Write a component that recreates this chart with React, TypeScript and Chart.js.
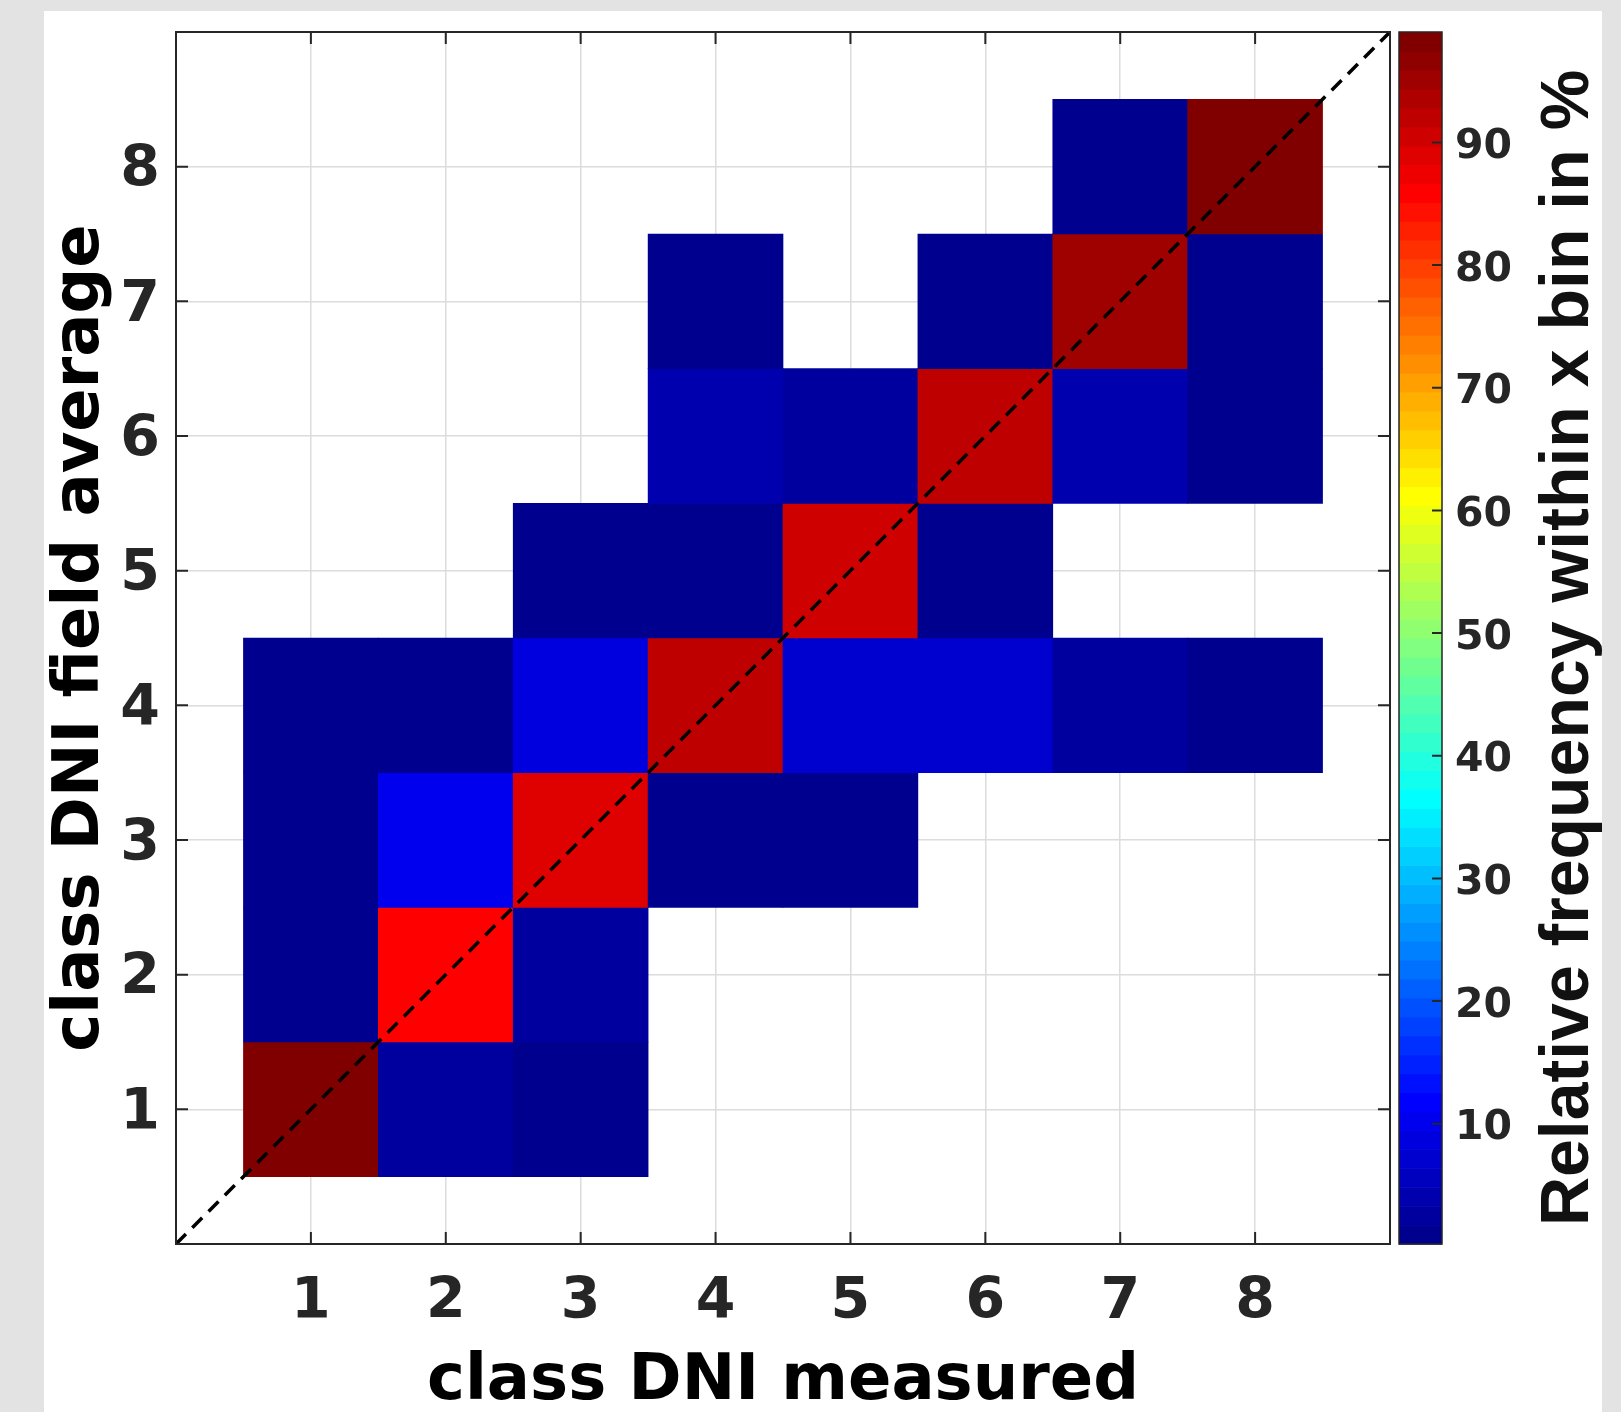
import React, { useEffect, useRef } from 'react';
import { Chart, registerables } from 'chart.js';

Chart.register(...registerables);

const W = 1621;
const H = 1412;

// Classes on both axes
const CLASSES = [1, 2, 3, 4, 5, 6, 7, 8];
const X_TICKS = [1, 2, 3, 4, 5, 6, 7, 8];
const Y_TICKS = [1, 2, 3, 4, 5, 6, 7, 8];
const CBAR_TICKS = [10, 20, 30, 40, 50, 60, 70, 80, 90];

// Relative frequency within x bin (%), one array per y class (field average),
// indexed by x class (measured); null = empty bin
const ROW_Y1 = [99.0, 2.9, 1.2, null, null, null, null, null];
const ROW_Y2 = [0.4, 86.0, 1.9, null, null, null, null, null];
const ROW_Y3 = [0.2, 10.5, 89.0, 1.3, 0.8, null, null, null];
const ROW_Y4 = [0.4, 1.2, 8.7, 92.5, 7.6, 7.4, 2.8, 1.4];
const ROW_Y5 = [null, null, 0.7, 1.0, 90.5, 1.4, null, null];
const ROW_Y6 = [null, null, null, 4.2, 2.6, 92.0, 4.6, 1.6];
const ROW_Y7 = [null, null, null, 0.9, null, 1.6, 95.1, 1.6];
const ROW_Y8 = [null, null, null, null, null, null, 1.3, 98.2];

const X_LABEL = 'class DNI measured';
const Y_LABEL = 'class DNI field average';
const CBAR_LABEL = 'Relative frequency within x bin in %';

const ROWS = [ROW_Y1, ROW_Y2, ROW_Y3, ROW_Y4, ROW_Y5, ROW_Y6, ROW_Y7, ROW_Y8];
const ALL_VALUES = ROWS.flat().filter((v) => v !== null) as number[];
const CMIN = Math.min(...ALL_VALUES);
const CMAX = Math.max(...ALL_VALUES);
const NCOLORS = 64;

function jet(k: number): string {
  const c = (a: number) => Math.max(0, Math.min(1, a));
  const r = c(Math.min((k - 24) / 16, (72 - k) / 16));
  const g = c(Math.min((k - 8) / 16, (56 - k) / 16));
  const b = c(Math.min((k + 8) / 16, (40 - k) / 16));
  return `rgb(${Math.round(r * 255)},${Math.round(g * 255)},${Math.round(b * 255)})`;
}

function colorFor(v: number): string {
  let k = Math.floor(((v - CMIN) / (CMAX - CMIN)) * NCOLORS) + 1;
  k = Math.max(1, Math.min(NCOLORS, k));
  return jet(k);
}

const TICK_FONT = { family: "'DejaVu Sans', sans-serif", size: 57, weight: 'bold' as const };
const TITLE_FONT_FAMILY = "'DejaVu Sans', sans-serif";
const AXIS_COLOR = '#262626';

const zeroPad = (s: any) => {
  s.paddingTop = 0;
  s.paddingBottom = 0;
  s.paddingLeft = 0;
  s.paddingRight = 0;
};

const decorPlugin = {
  id: 'decor',
  beforeDraw(chart: any) {
    const { ctx, width, height } = chart;
    ctx.save();
    ctx.fillStyle = '#e3e3e3';
    ctx.fillRect(0, 0, width, height);
    ctx.fillStyle = '#ffffff';
    ctx.fillRect(44, 11, 1558, height - 11);
    ctx.restore();
  },
  afterDatasetsDraw(chart: any) {
    const { ctx, chartArea: a, scales } = chart;
    const sx = scales.x;
    const sy = scales.y;
    const sc = scales.c;
    ctx.save();
    // axes box + inward ticks
    ctx.strokeStyle = AXIS_COLOR;
    ctx.lineWidth = 2;
    ctx.beginPath();
    for (const v of X_TICKS) {
      const px = sx.getPixelForValue(v);
      ctx.moveTo(px, a.bottom);
      ctx.lineTo(px, a.bottom - 12);
      ctx.moveTo(px, a.top);
      ctx.lineTo(px, a.top + 12);
    }
    for (const v of Y_TICKS) {
      const py = sy.getPixelForValue(v);
      ctx.moveTo(a.left, py);
      ctx.lineTo(a.left + 12, py);
      ctx.moveTo(a.right, py);
      ctx.lineTo(a.right - 12, py);
    }
    ctx.stroke();
    ctx.strokeRect(a.left, a.top, a.right - a.left, a.bottom - a.top);

    // colorbar
    const cbL = a.right + 9;
    const cbR = a.right + 52;
    for (let k = 1; k <= NCOLORS; k++) {
      const v0 = CMIN + ((k - 1) * (CMAX - CMIN)) / NCOLORS;
      const v1 = CMIN + (k * (CMAX - CMIN)) / NCOLORS;
      const p0 = sc.getPixelForValue(v0);
      const p1 = sc.getPixelForValue(v1);
      ctx.fillStyle = jet(k);
      ctx.fillRect(cbL, p1, cbR - cbL, p0 - p1 + 0.6);
    }
    ctx.lineWidth = 1.5;
    ctx.strokeStyle = AXIS_COLOR;
    ctx.strokeRect(cbL, sc.top, cbR - cbL, sc.bottom - sc.top);
    ctx.beginPath();
    for (const v of CBAR_TICKS) {
      const py = sc.getPixelForValue(v);
      ctx.moveTo(cbR, py);
      ctx.lineTo(cbR - 10, py);
    }
    ctx.lineWidth = 2;
    ctx.stroke();

    // colorbar label (reads bottom to top)
    ctx.translate(1588, 648);
    ctx.rotate(-Math.PI / 2);
    ctx.font = "bold 68px 'Liberation Sans', Arial, sans-serif";
    ctx.fillStyle = '#111111';
    ctx.textAlign = 'center';
    ctx.textBaseline = 'alphabetic';
    ctx.fillText(CBAR_LABEL, 0, 0);
    ctx.restore();
  },
};

export default function App() {
  const ref = useRef<HTMLCanvasElement>(null);

  useEffect(() => {
    const canvas = ref.current;
    if (!canvas) return;

    const cells: { x: number; y: [number, number]; v: number }[] = [];
    ROWS.forEach((row, j) => {
      row.forEach((v, i) => {
        if (v !== null) {
          cells.push({ x: CLASSES[i], y: [CLASSES[j] - 0.5, CLASSES[j] + 0.5], v: v as number });
        }
      });
    });

    const chart = new Chart(canvas, {
      type: 'bar',
      data: {
        datasets: [
          {
            type: 'line',
            data: [
              { x: 0, y: 0 },
              { x: 9, y: 9 },
            ],
            borderColor: '#000000',
            borderWidth: 3.5,
            borderDash: [14, 9],
            pointRadius: 0,
            fill: false,
            order: 0,
          } as any,
          {
            type: 'bar',
            data: cells as any,
            backgroundColor: (c: any) => (c.raw ? colorFor(c.raw.v) : 'transparent'),
            borderWidth: 0,
            grouped: false,
            barPercentage: 1,
            categoryPercentage: 1,
            order: 1,
          } as any,
        ],
      },
      options: {
        responsive: false,
        animation: false,
        devicePixelRatio: 1,
        layout: { padding: { top: 32, left: 0, right: 0, bottom: 0 } },
        plugins: { legend: { display: false }, tooltip: { enabled: false } },
        scales: {
          x: {
            type: 'linear',
            position: 'bottom',
            min: 0,
            max: 9,
            offset: false,
            afterBuildTicks: (s: any) => {
              s.ticks = X_TICKS.map((v) => ({ value: v }));
            },
            afterFit: (s: any) => {
              s.height = 168;
              zeroPad(s);
            },
            grid: { color: '#dcdcdc', lineWidth: 1.5, drawTicks: false, offset: false },
            border: { display: false },
            ticks: { font: TICK_FONT, color: AXIS_COLOR, padding: 25, maxRotation: 0, autoSkip: false },
            title: {
              display: true,
              text: X_LABEL,
              color: '#000000',
              font: { family: TITLE_FONT_FAMILY, size: 64, weight: 'bold', lineHeight: 0.9 },
              padding: { top: 0, bottom: 1 },
            },
          },
          y: {
            type: 'linear',
            position: 'left',
            min: 0,
            max: 9,
            afterBuildTicks: (s: any) => {
              s.ticks = Y_TICKS.map((v) => ({ value: v }));
            },
            afterFit: (s: any) => {
              s.width = 176;
              zeroPad(s);
            },
            grid: { color: '#dcdcdc', lineWidth: 1.5, drawTicks: false },
            border: { display: false },
            ticks: { font: TICK_FONT, color: AXIS_COLOR, padding: 16, autoSkip: false, labelOffset: 5 },
            title: {
              display: true,
              text: Y_LABEL,
              color: '#000000',
              font: { family: TITLE_FONT_FAMILY, size: 64, weight: 'bold', lineHeight: 1.0 },
              padding: { top: 49, bottom: 0 },
            },
          },
          c: {
            type: 'linear',
            position: 'right',
            min: CMIN,
            max: CMAX,
            afterBuildTicks: (s: any) => {
              s.ticks = CBAR_TICKS.map((v) => ({ value: v }));
            },
            afterFit: (s: any) => {
              s.width = 231;
              zeroPad(s);
            },
            grid: { display: false, drawTicks: false },
            border: { display: false },
            ticks: {
              font: { family: "'DejaVu Sans', sans-serif", size: 41, weight: 'bold' },
              color: AXIS_COLOR,
              padding: 65,
              autoSkip: false,
              labelOffset: 5,
            },
          },
        },
      } as any,
      plugins: [decorPlugin],
    });

    return () => chart.destroy();
  }, []);

  return (
    <div style={{ position: 'fixed', left: 0, top: 0, width: W, height: H, overflow: 'hidden' }}>
      <canvas ref={ref} width={W} height={H} style={{ display: 'block', width: W, height: H }} />
    </div>
  );
}
